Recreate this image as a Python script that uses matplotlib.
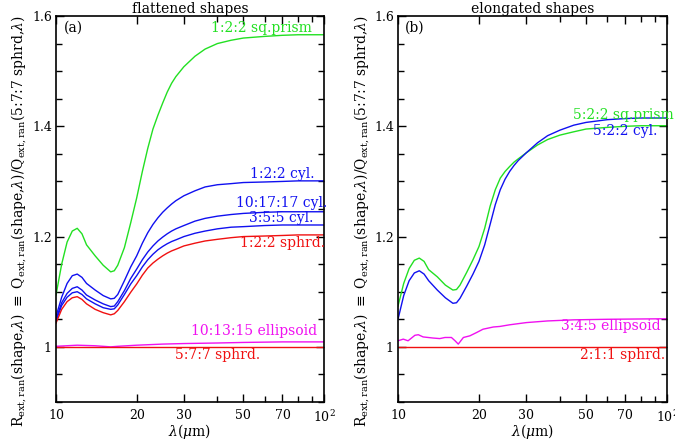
import matplotlib
matplotlib.use("agg")
import matplotlib.pyplot as plt
from matplotlib.ticker import FixedLocator, NullFormatter

plt.rcParams["font.family"] = ["DejaVu Serif"]
plt.rcParams["mathtext.fontset"] = "dejavuserif"

# ---- flattened shapes (a) ----
wl = [10, 10.5, 11, 11.5, 12, 12.5, 13, 14, 15, 16, 16.5, 17, 18, 19, 20,
      21, 22, 23, 24, 25, 26, 27, 28, 30, 33, 36, 40, 45, 50, 60, 70, 80, 90, 100]

a_prism_122 = [1.094, 1.15, 1.19, 1.21, 1.215, 1.205, 1.185, 1.165, 1.148, 1.136,
               1.138, 1.148, 1.18, 1.225, 1.27, 1.318, 1.36, 1.395, 1.42, 1.442,
               1.462, 1.478, 1.49, 1.508, 1.527, 1.54, 1.55, 1.556, 1.56, 1.563,
               1.565, 1.566, 1.566, 1.566]
a_cyl_122 = [1.055, 1.09, 1.115, 1.129, 1.132, 1.126, 1.115, 1.103, 1.093, 1.087,
             1.088, 1.095, 1.12, 1.145, 1.165, 1.188, 1.207, 1.222, 1.234, 1.244,
             1.252, 1.259, 1.265, 1.274, 1.283, 1.29, 1.294, 1.296, 1.298, 1.299,
             1.3, 1.301, 1.301, 1.301]
a_cyl_101717 = [1.05, 1.08, 1.097, 1.106, 1.109, 1.103, 1.094, 1.085, 1.078, 1.073,
                1.074, 1.082, 1.102, 1.124, 1.141, 1.158, 1.172, 1.183, 1.192, 1.199,
                1.205, 1.21, 1.214, 1.22, 1.228, 1.233, 1.237, 1.24, 1.242, 1.244,
                1.245, 1.245, 1.245, 1.245]
a_cyl_355 = [1.047, 1.075, 1.09, 1.098, 1.1, 1.095, 1.087, 1.078, 1.071, 1.068,
             1.069, 1.076, 1.095, 1.114, 1.129, 1.145, 1.158, 1.168, 1.176, 1.182,
             1.187, 1.191, 1.194, 1.2, 1.206, 1.21, 1.214, 1.217, 1.218, 1.22,
             1.221, 1.221, 1.221, 1.221]
a_sphrd_122 = [1.043, 1.068, 1.082, 1.089, 1.091, 1.086, 1.078, 1.068, 1.062, 1.058,
               1.06, 1.066, 1.082, 1.099, 1.114, 1.13, 1.143, 1.152, 1.159, 1.165,
               1.17, 1.174, 1.177, 1.183, 1.188, 1.192, 1.195, 1.198, 1.2, 1.201,
               1.202, 1.203, 1.203, 1.203]
a_ell_wl = [10, 12, 14, 16, 17, 20, 25, 30, 40, 50, 70, 100]
a_ell_101315 = [1.001, 1.003, 1.002, 1.0, 1.001, 1.003, 1.005, 1.006, 1.007, 1.008, 1.009, 1.009]
a_sphrd_wl = [10, 100]
a_sphrd_577 = [1.0, 1.0]

# ---- elongated shapes (b) ----
b_prism_522 = [1.074, 1.115, 1.142, 1.157, 1.161, 1.155, 1.14, 1.127, 1.112, 1.103,
               1.104, 1.112, 1.135, 1.158, 1.182, 1.215, 1.255, 1.285, 1.306, 1.318,
               1.327, 1.335, 1.341, 1.352, 1.366, 1.376, 1.384, 1.39, 1.395, 1.398,
               1.4, 1.401, 1.401, 1.401]
b_cyl_522 = [1.05, 1.093, 1.12, 1.134, 1.138, 1.132, 1.12, 1.103, 1.089, 1.079,
             1.08, 1.088, 1.11, 1.132, 1.155, 1.185, 1.222, 1.258, 1.285, 1.304,
             1.318, 1.329, 1.338, 1.352, 1.37, 1.383, 1.393, 1.402, 1.407, 1.412,
             1.414, 1.415, 1.415, 1.415]
b_ell_wl = [10, 10.46, 10.9, 11.56, 11.9, 12.4, 13.5, 14.3, 14.95, 15.8, 16.3, 16.75,
            17.5, 18.5, 19.6, 20.7, 22.6, 23.9, 26, 30, 36, 45, 60, 100]
b_ell_345 = [1.011, 1.014, 1.011, 1.021, 1.022, 1.018, 1.016, 1.015, 1.017, 1.017, 1.011,
             1.005, 1.017, 1.02, 1.026, 1.032, 1.036, 1.037, 1.04, 1.044, 1.047, 1.049,
             1.05, 1.051]
b_sphrd_211 = [1.0, 1.0]

GREEN = "#22e022"
BLUE = "#1010f0"
RED = "#f01010"
MAG = "#f010f0"

ylab = (r"R$_{\rm ext,ran}$(shape,$\lambda$) $\equiv$ Q$_{\rm ext,ran}$(shape,$\lambda$)"
        r"/Q$_{\rm ext,ran}$(5:7:7 sphrd,$\lambda$)")

fig = plt.figure(figsize=(6.75, 4.4), dpi=100)
ax1 = fig.add_axes([56 / 675, 38 / 440, 268 / 675, 386 / 440])
ax2 = fig.add_axes([398 / 675, 38 / 440, 269 / 675, 386 / 440])

lw = 1.0
ax1.plot(wl, a_prism_122, color=GREEN, lw=lw)
ax1.plot(wl, a_cyl_122, color=BLUE, lw=lw)
ax1.plot(wl, a_cyl_101717, color=BLUE, lw=lw)
ax1.plot(wl, a_cyl_355, color=BLUE, lw=lw)
ax1.plot(wl, a_sphrd_122, color=RED, lw=lw)
ax1.plot(a_ell_wl, a_ell_101315, color=MAG, lw=lw)
ax1.plot(a_sphrd_wl, a_sphrd_577, color=RED, lw=lw)

ax2.plot(wl, b_prism_522, color=GREEN, lw=lw)
ax2.plot(wl, b_cyl_522, color=BLUE, lw=lw)
ax2.plot(b_ell_wl, b_ell_345, color=MAG, lw=lw)
ax2.plot(a_sphrd_wl, b_sphrd_211, color=RED, lw=lw)

fs = 10
ax1.text(90.2, 1.579, "1:2:2 sq.prism", color=GREEN, ha="right", va="center", fontsize=fs)
ax1.text(91.8, 1.314, "1:2:2 cyl.", color=BLUE, ha="right", va="center", fontsize=fs)
ax1.text(102.6, 1.261, "10:17:17 cyl.", color=BLUE, ha="right", va="center", fontsize=fs)
ax1.text(91.0, 1.233, "3:5:5 cyl.", color=BLUE, ha="right", va="center", fontsize=fs)
ax1.text(100.9, 1.189, "1:2:2 sphrd.", color=RED, ha="right", va="center", fontsize=fs)
ax1.text(94.2, 1.028, "10:13:15 ellipsoid", color=MAG, ha="right", va="center", fontsize=fs)
ax1.text(57.7, 0.985, "5:7:7 sphrd.", color=RED, ha="right", va="center", fontsize=fs)

ax2.text(44.7, 1.421, "5:2:2 sq.prism", color=GREEN, ha="left", va="center", fontsize=fs)
ax2.text(53.1, 1.392, "5:2:2 cyl.", color=BLUE, ha="left", va="center", fontsize=fs)
ax2.text(95.0, 1.037, "3:4:5 ellipsoid", color=MAG, ha="right", va="center", fontsize=fs)
ax2.text(98.3, 0.985, "2:1:1 sphrd.", color=RED, ha="right", va="center", fontsize=fs)

ax1.text(0.03, 0.971, "(a)", transform=ax1.transAxes, ha="left", va="center", fontsize=fs)
ax2.text(0.026, 0.971, "(b)", transform=ax2.transAxes, ha="left", va="center", fontsize=fs)

for ax, title, ylx in ((ax1, "flattened shapes", -0.10), (ax2, "elongated shapes", -0.097)):
    ax.set_xscale("log")
    ax.set_xlim(10, 100)
    ax.set_ylim(0.9, 1.6)
    ax.xaxis.set_major_locator(FixedLocator([10, 20, 30, 50, 70, 100]))
    ax.xaxis.set_minor_locator(FixedLocator([40, 60, 80, 90]))
    ax.xaxis.set_minor_formatter(NullFormatter())
    ax.set_xticklabels(["10", "20", "30", "50", "70", r"10$^2$"])
    ax.set_yticks([1.0, 1.2, 1.4, 1.6])
    ax.set_yticklabels(["1", "1.2", "1.4", "1.6"])
    ax.set_yticks([0.9, 0.95, 1.05, 1.1, 1.15, 1.25, 1.3, 1.35, 1.45, 1.5, 1.55], minor=True)
    ax.tick_params(which="both", direction="in", top=True, right=True, labelsize=9, width=1.0)
    ax.tick_params(which="major", length=6)
    ax.tick_params(which="minor", length=4)
    ax.tick_params(axis="x", pad=5)
    ax.tick_params(axis="y", pad=3)
    for s in ax.spines.values():
        s.set_linewidth(1.2)
    ax.set_title(title, fontsize=10, pad=2)
    ax.set_xlabel(r"$\lambda$($\mu$m)", fontsize=10)
    ax.xaxis.set_label_coords(0.5, -0.053)
    ax.set_ylabel(ylab, fontsize=10)
    ax.yaxis.set_label_coords(ylx, 0.468)

fig.savefig("out.png", dpi=100)
